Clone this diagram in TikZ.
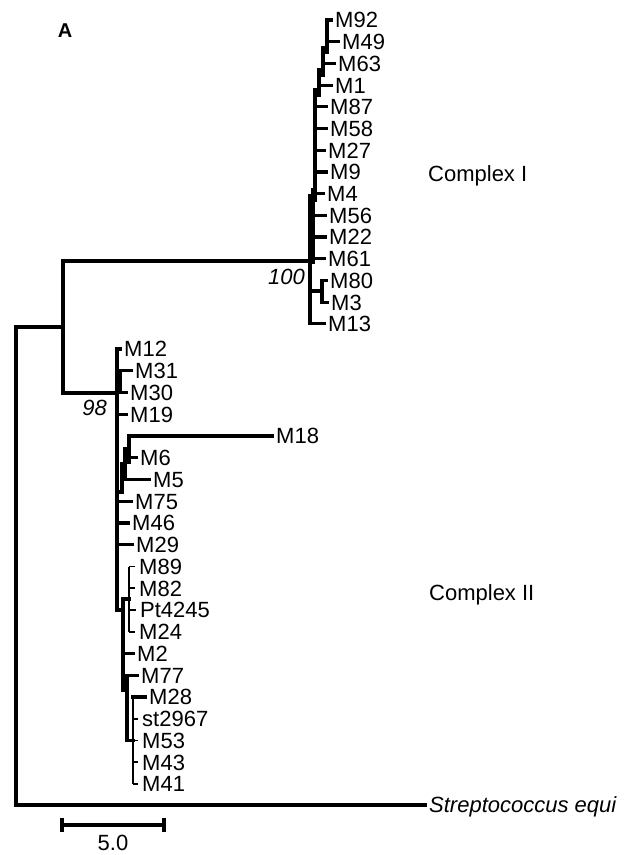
\documentclass[tikz,border=0pt]{standalone}
\usepackage{fontspec}
\setmainfont{Liberation Sans}
\begin{document}
\begin{tikzpicture}[
    x=1pt, y=-1pt,
    every node/.style={font=\fontsize{22}{26}\selectfont},
    br/.style={line width=3.2pt, line cap=rect},
    twig/.style={line width=1.6pt},
    leaf/.style={anchor=west, inner xsep=4pt, inner ysep=2pt, text height=15.8pt, text depth=0pt},
    boot/.style={anchor=east, inner sep=2pt, text height=15.8pt, text depth=0pt,
                 font=\fontsize{22}{26}\selectfont\itshape}
  ]
  \useasboundingbox (0,0) rectangle (624,855);

  % panel letter
  \node[font=\fontsize{20}{24}\selectfont\bfseries] (panel) at (65,31) {A};

  % Complex I leaves
  \foreach \nm/\lx/\i in {M92/335/0, M49/342/1, M63/338/2, M1/335/3, M87/330/4,
      M58/330/5, M27/328/6, M9/330/7, M4/327/8, M56/329/9, M22/329/10,
      M61/328/11, M80/330/12, M3/331/13, M13/328/14}
    \node[leaf] (\nm) at ({\lx-4},{20+21.7*\i}) {\nm};

  % Complex II leaves
  \foreach \nm/\lx/\i in {M12/124/0, M31/135/1, M30/130/2, M19/130/3, M18/276/4,
      M6/140/5, M5/153/6, M75/135/7, M46/132/8, M29/136/9, M89/139/10,
      M82/139/11, Pt4245/140/12, M24/139/13, M2/137/14, M77/141/15,
      M28/149/16, st2967/142/17, M53/142/18, M43/142/19, M41/142/20}
    \node[leaf] (\nm) at ({\lx-4},{349+21.75*\i}) {\nm};

  % outgroup
  \node[leaf, font=\fontsize{22}{26}\selectfont\itshape] (strep) at (425,805)
    {Streptococcus equi};

  % backbone
  \draw[br] (16,327) |- (strep.west);
  \draw[br] (16,327) -- (63,327);
  \draw[br] (310,261) -| (63,393) -- (117,393);

  % Complex I spine
  \draw[br] (327,20) -- (327,52);
  \draw[br] (323,48) -- (323,75);
  \draw[br] (319,70) -- (319,95);
  \draw[br] (315,90) -- (315,200);
  \draw[br] (313,190) -- (313,262);
  \draw[br] (310,196) -- (310,323.8);
  \draw[br] (310,291) -- (322,291);
  \draw[br] (322,280.4) -- (322,302.1);
  \foreach \nm/\sx in {M92/327, M49/327, M63/323, M1/319, M87/315, M58/315,
      M27/315, M9/315, M4/313, M56/313, M22/313, M61/313, M80/322, M3/322,
      M13/310}
    \draw[br] (\sx,0 |- \nm.west) -- (\nm.west);

  % Complex II spine
  \draw[br] (117,349) -- (117,610);
  \draw[br] (117,381) -- (120,381);
  \draw[br] (120,370.75) -- (120,392.5);
  \draw[br] (129,436) -- (129,462);
  \draw[br] (125,449) -- (129,449);
  \draw[br] (125,449) -- (125,479.5);
  \draw[br] (122,464) -- (125,464);
  \draw[br] (122,464) -- (122,492);
  \draw[br] (117,492) -- (122,492);
  \draw[br] (117,610) -- (123,610);
  \draw[br] (123,599) -- (123,690);
  \draw[br] (123,599) -- (129,599);
  \draw[twig] (129,566.5) -- (129,631.75);
  \draw[br] (123,690) -- (127,690);
  \draw[br] (127,675.25) -- (127,740.5);
  \draw[br] (127,740.5) -- (133,740.5);
  \draw[twig] (133,697) -- (133,784);
  \foreach \nm/\sx in {M12/117, M31/120, M30/120, M19/117, M18/129, M6/129,
      M5/125, M75/117, M46/117, M29/117, M2/123, M77/127, M28/133}
    \draw[br] (\sx,0 |- \nm.west) -- (\nm.west);
  \foreach \nm/\sx in {M89/129, M82/129, Pt4245/129, M24/129, st2967/133,
      M53/133, M43/133, M41/133}
    \draw[twig] (\sx,0 |- \nm.west) -- (\nm.west);

  % bootstrap values
  \node[boot] (b100) at (307,277) {100};
  \node[boot] (b98) at (109,408) {98};

  % clade names
  \node[leaf] (cplx1) at (424,174) {Complex I};
  \node[leaf] (cplx2) at (425,593) {Complex II};

  % scale bar
  \coordinate (sbl) at (62,825);
  \coordinate (sbr) at (164,825);
  \draw[br] (sbl) -- (sbr);
  \draw[br] ([yshift=-5pt]sbl) -- ([yshift=5pt]sbl);
  \draw[br] ([yshift=-5pt]sbr) -- ([yshift=5pt]sbr);
  \node[text height=15.8pt, text depth=0pt, inner sep=0pt] (sbtxt) at (113,843) {5.0};
\end{tikzpicture}
\end{document}
